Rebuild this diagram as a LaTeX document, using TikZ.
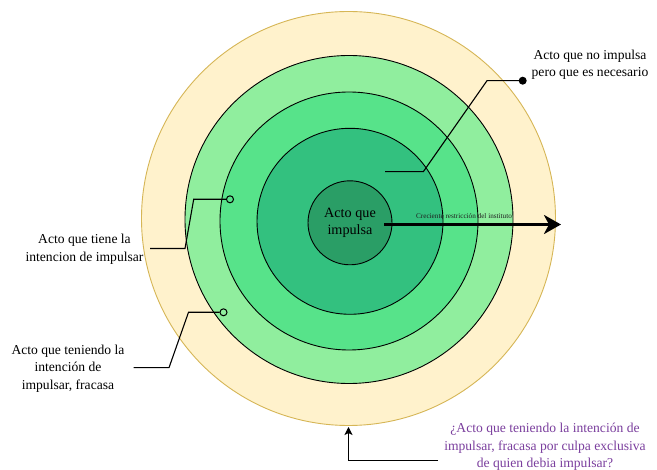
\documentclass[tikz,border=0pt]{standalone}
\usepackage{fontspec}
\setmainfont{Liberation Serif}
\usetikzlibrary{arrows.meta}
\definecolor{ringA}{HTML}{FFF2CC}
\definecolor{ringAline}{HTML}{D6B656}
\definecolor{ringB}{HTML}{90EE9E}
\definecolor{ringC}{HTML}{57E38A}
\definecolor{ringD}{HTML}{33C17F}
\definecolor{ringE}{HTML}{2A9E66}
\definecolor{purp}{HTML}{7B3F9E}
\tikzset{
  ring/.style={circle, inner sep=0pt, outer sep=0pt, draw=black, line width=0.9pt},
  lbl/.style={align=center, font=\fontsize{13.6}{17.5}\selectfont, inner sep=0pt},
  conn/.style={draw=black, line width=1.1pt},
  opendot/.style={circle, draw=black, line width=1pt, minimum size=7pt, inner sep=0pt},
  fulldot/.style={circle, fill=black, minimum size=8pt, inner sep=0pt},
}
\begin{document}
\begin{tikzpicture}[x=1pt,y=-1pt]
\useasboundingbox (0,0) rectangle (657,470);
\fill[white] (0,0) rectangle (657,470);
% rings
\node[ring, draw=ringAline, fill=ringA, minimum size=414pt] (r1) at (348.5,218.5) {};
\node[ring, fill=ringB, minimum size=328pt] (r2) at (349,219.5) {};
\node[ring, fill=ringC, minimum size=258pt] (r3) at (349,221) {};
\node[ring, fill=ringD, minimum size=186pt] (r4) at (350,221.3) {};
\node[ring, fill=ringE, minimum size=84pt, align=center, font=\fontsize{14.2}{17.5}\selectfont] (r5) at (350,222.8) {Acto que\\impulsa};
% main arrow
\coordinate (a0) at (384,224.5);
\coordinate (a1) at (561,224.5);
\draw[line width=3.2pt, -{Stealth[length=17pt,width=19pt,inset=5pt]}] (a0) -- (a1);
\node[font=\fontsize{7.2}{8}\selectfont, text=black!88, inner sep=0pt] (atxt) at (464,216.5) {Creciente restricción del instituto};
% top-right label
\node[lbl] (t1) at (590,64.5) {Acto que no impulsa\\pero que es necesario};
\node[fulldot] (d1) at (522.7,80.7) {};
\coordinate (p1a) at (487,80.7);
\coordinate (p1b) at (423.3,171.7);
\coordinate (p1c) at (385,171.7);
\draw[conn] (d1.center) -- (p1a) -- (p1b) -- (p1c);
% left label 1
\node[lbl] (t2) at (84.5,249) {Acto que tiene la\\intencion de impulsar};
\node[opendot] (d2) at (230,199.3) {};
\coordinate (p2a) at (150,248.5);
\coordinate (p2b) at (185,248.5);
\coordinate (p2c) at (193.7,199.3);
\draw[conn] (p2a) -- (p2b) -- (p2c) -- (d2.west);
% left label 2
\node[lbl] (t3) at (68,368.5) {Acto que teniendo la\\intención de\\impulsar, fracasa};
\node[opendot] (d3) at (223.5,312.3) {};
\coordinate (p3a) at (133.5,367.7);
\coordinate (p3b) at (169,367.7);
\coordinate (p3c) at (188.5,312.3);
\draw[conn] (p3a) -- (p3b) -- (p3c) -- (d3.west);
% bottom label
\node[lbl, text=purp] (t4) at (545,447) {¿Acto que teniendo la intención de\\impulsar, fracasa por culpa exclusiva\\de quien debia impulsar?};
\coordinate (p4a) at (438,460.7);
\coordinate (p4b) at (348.5,460.7);
\coordinate (p4c) at (348.5,427);
\draw[conn, -{Stealth[length=8pt,width=8pt,inset=2pt]}] (p4a) -- (p4b) -- (p4c);
\end{tikzpicture}
\end{document}
